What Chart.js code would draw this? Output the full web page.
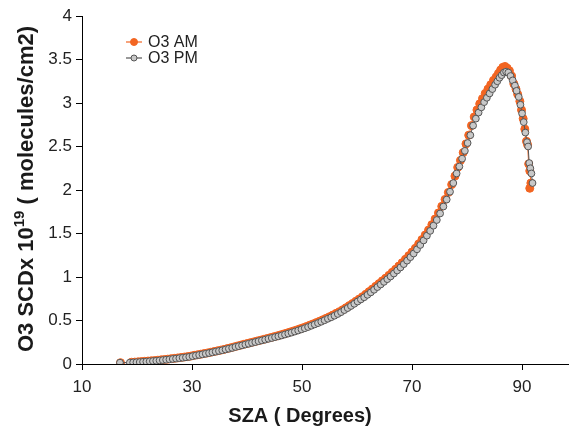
<!DOCTYPE html>
<html>
<head>
<meta charset="utf-8">
<script src="https://cdn.jsdelivr.net/npm/chart.js@4.4.0/dist/chart.umd.min.js"></script>
<style>
  html, body { margin: 0; padding: 0; background: #fff; overflow: hidden; }
  #wrap { width: 573px; height: 426px; position: relative; }
</style>
</head>
<body>
<div id="wrap"><canvas id="myChart"></canvas></div>
<script>
// values (SZA in degrees, SCD in 1e19 molecules/cm2)
const amSza = [17.0, 19.0, 19.6, 20.2, 20.8, 21.4, 22.0, 22.6, 23.2, 23.8, 24.4, 25.0, 25.6, 26.2, 26.8, 27.4, 28.0, 28.6, 29.2, 29.8,
    30.4, 31.0, 31.6, 32.2, 32.8, 33.4, 34.0, 34.6, 35.2, 35.8, 36.4, 37.0, 37.6, 38.2, 38.8, 39.4, 40.0, 40.6, 41.2, 41.8,
    42.4, 43.0, 43.6, 44.2, 44.8, 45.4, 46.0, 46.6, 47.2, 47.8, 48.4, 49.0, 49.6, 50.2, 50.8, 51.4, 52.0, 52.6, 53.2, 53.8,
    54.4, 55.0, 55.6, 56.2, 56.8, 57.4, 58.0, 58.6, 59.2, 59.8, 60.4, 61.0, 61.6, 62.2, 62.8, 63.4, 64.0, 64.6, 65.2, 65.8,
    66.4, 67.0, 67.6, 68.2, 68.8, 69.4, 70.0, 70.6, 71.2, 71.8, 72.4, 73.0, 73.6, 74.2, 74.8, 75.4, 76.0, 76.6, 77.2, 77.8,
    78.3, 78.8, 79.3, 79.8, 80.3, 80.8, 81.3, 81.8, 82.3, 82.8, 83.3, 83.8, 84.3, 84.8, 85.3, 85.7, 86.1, 86.5, 86.9, 87.3,
    87.7, 88.1, 88.5, 88.9, 89.2, 89.6, 89.9, 90.2, 90.5, 90.8, 91.0, 91.2, 91.4, 91.6, 91.4];
const amO3 = [0.015, 0.02, 0.022, 0.025, 0.028, 0.031, 0.034, 0.037, 0.04, 0.044, 0.048, 0.052, 0.056, 0.061, 0.065, 0.07, 0.075, 0.08, 0.085, 0.091,
    0.1, 0.106, 0.113, 0.12, 0.127, 0.135, 0.143, 0.151, 0.159, 0.168, 0.177, 0.186, 0.196, 0.206, 0.216, 0.226, 0.235, 0.245, 0.254, 0.264,
    0.273, 0.283, 0.292, 0.302, 0.312, 0.322, 0.333, 0.344, 0.355, 0.367, 0.379, 0.391, 0.404, 0.417, 0.431, 0.446, 0.461, 0.476, 0.492, 0.509,
    0.526, 0.544, 0.562, 0.582, 0.602, 0.624, 0.647, 0.671, 0.696, 0.722, 0.747, 0.774, 0.802, 0.832, 0.862, 0.893, 0.924, 0.956, 0.987, 1.019,
    1.054, 1.089, 1.126, 1.164, 1.204, 1.245, 1.287, 1.33, 1.38, 1.43, 1.483, 1.54, 1.602, 1.667, 1.737, 1.812, 1.892, 1.972, 2.062, 2.16,
    2.26, 2.34, 2.43, 2.53, 2.63, 2.74, 2.84, 2.92, 2.99, 3.05, 3.11, 3.16, 3.21, 3.26, 3.3, 3.34, 3.38, 3.41, 3.42, 3.4,
    3.37, 3.31, 3.22, 3.16, 3.1, 3.02, 2.92, 2.82, 2.7, 2.56, 2.52, 2.3, 2.22, 2.08, 2.02];

const pmSza = [16.9, 18.7, 19.3, 19.9, 20.5, 21.1, 21.7, 22.3, 22.9, 23.5, 24.1, 24.7, 25.3, 25.9, 26.5, 27.1, 27.7, 28.3, 28.9, 29.5,
    30.1, 30.7, 31.3, 31.9, 32.5, 33.1, 33.7, 34.3, 34.9, 35.5, 36.1, 36.7, 37.3, 37.9, 38.5, 39.1, 39.7, 40.3, 40.9, 41.5,
    42.1, 42.7, 43.3, 43.9, 44.5, 45.1, 45.7, 46.3, 46.9, 47.5, 48.1, 48.7, 49.3, 49.9, 50.5, 51.1, 51.7, 52.3, 52.9, 53.5,
    54.1, 54.7, 55.3, 55.9, 56.5, 57.1, 57.7, 58.3, 58.9, 59.5, 60.1, 60.7, 61.3, 61.9, 62.5, 63.1, 63.7, 64.3, 64.9, 65.5,
    66.1, 66.7, 67.3, 67.9, 68.5, 69.1, 69.7, 70.3, 70.9, 71.5, 72.1, 72.7, 73.3, 73.9, 74.5, 75.1, 75.7, 76.3, 76.9, 77.5,
    78.1, 78.6, 79.1, 79.6, 80.1, 80.6, 81.1, 81.6, 82.1, 82.6, 83.1, 83.6, 84.1, 84.6, 85.1, 85.5, 85.9, 86.3, 86.7, 87.1,
    87.5, 87.9, 88.3, 88.7, 89.0, 89.4, 89.7, 90.0, 90.3, 90.6, 90.9, 91.1, 91.3, 91.5, 91.7, 91.9];
const pmO3 = [0.015, 0.016, 0.018, 0.02, 0.022, 0.025, 0.028, 0.031, 0.034, 0.037, 0.041, 0.045, 0.049, 0.053, 0.058, 0.062, 0.067, 0.072, 0.077, 0.082,
    0.09, 0.097, 0.104, 0.111, 0.118, 0.126, 0.134, 0.142, 0.15, 0.158, 0.167, 0.176, 0.185, 0.196, 0.205, 0.214, 0.224, 0.233, 0.243, 0.252,
    0.262, 0.271, 0.28, 0.29, 0.299, 0.309, 0.318, 0.328, 0.339, 0.35, 0.361, 0.373, 0.385, 0.398, 0.411, 0.425, 0.44, 0.455, 0.47, 0.486,
    0.503, 0.52, 0.537, 0.555, 0.575, 0.596, 0.62, 0.643, 0.667, 0.692, 0.718, 0.742, 0.767, 0.795, 0.823, 0.853, 0.884, 0.914, 0.944, 0.975,
    1.006, 1.04, 1.075, 1.11, 1.148, 1.188, 1.228, 1.27, 1.318, 1.368, 1.42, 1.475, 1.53, 1.59, 1.655, 1.73, 1.81, 1.89, 1.98, 2.08,
    2.19, 2.27, 2.36, 2.45, 2.54, 2.63, 2.74, 2.82, 2.89, 2.95, 3.01, 3.06, 3.11, 3.16, 3.21, 3.25, 3.29, 3.32, 3.35, 3.36,
    3.35, 3.31, 3.26, 3.2, 3.14, 3.07, 2.98, 2.88, 2.78, 2.66, 2.55, 2.5, 2.31, 2.25, 2.19, 2.08];

const xTicks = [10, 30, 50, 70, 90];
const yTicks = [0, 0.5, 1, 1.5, 2, 2.5, 3, 3.5, 4];

const FONT = "'Liberation Sans', Arial, Helvetica, sans-serif";
const orange = 'rgb(242, 101, 34)';
const grayFill = 'rgb(200, 200, 200)';
const grayLine = 'rgb(85, 85, 85)';

function toPoints(xs, ys) {
    return xs.map((x, i) => ({ x: x, y: ys[i] }));
}

// axis titles and the in-plot legend
const decorations = {
    id: 'decorations',
    afterDraw(chart) {
        const ctx = chart.ctx;
        const ds = chart.data.datasets;
        ctx.save();

        // legend
        const rows = [{ d: ds[0], y: 42, r: 3.5 }, { d: ds[1], y: 58, r: 3 }];
        rows.forEach(row => {
            ctx.strokeStyle = row.d.borderColor;
            ctx.lineWidth = 1.2;
            ctx.beginPath();
            ctx.moveTo(126, row.y);
            ctx.lineTo(142, row.y);
            ctx.stroke();
            ctx.beginPath();
            ctx.arc(134, row.y, row.r, 0, Math.PI * 2);
            ctx.fillStyle = row.d.pointBackgroundColor;
            ctx.fill();
            ctx.lineWidth = 1;
            ctx.strokeStyle = row.d.pointBorderColor;
            ctx.stroke();
            ctx.fillStyle = '#222';
            ctx.font = '16px ' + FONT;
            ctx.textAlign = 'left';
            ctx.textBaseline = 'middle';
            ctx.fillText(row.d.label, 148, row.y + 0.5);
        });

        // x title
        ctx.fillStyle = '#1a1a1a';
        ctx.font = 'bold 20px ' + FONT;
        ctx.textAlign = 'center';
        ctx.textBaseline = 'alphabetic';
        ctx.fillText('SZA ( Degrees)', 300, 422);

        // y title with superscript
        const part1 = 'O3 SCDx 10', sup = '19', part2 = ' ( molecules/cm2)';
        const big = 'bold 22px ' + FONT, small = 'bold 15px ' + FONT;
        ctx.font = big;
        const w1 = ctx.measureText(part1).width, w3 = ctx.measureText(part2).width;
        ctx.font = small;
        const w2 = ctx.measureText(sup).width;
        const total = w1 + w2 + w3;
        ctx.translate(33, 189);
        ctx.rotate(-Math.PI / 2);
        ctx.textAlign = 'left';
        let x = -total / 2;
        ctx.font = big;
        ctx.fillText(part1, x, 0);
        x += w1;
        ctx.font = small;
        ctx.fillText(sup, x, -9);
        x += w2;
        ctx.font = big;
        ctx.fillText(part2, x, 0);
        ctx.restore();
    }
};

const axisCommon = {
    grid: { display: true, drawOnChartArea: false, drawTicks: true, tickLength: 6, tickColor: '#000' },
    border: { display: true, color: '#000', width: 1 },
    ticks: { color: '#222', font: { family: FONT, size: 17 }, padding: 4, callback: (v) => String(v) }
};

const config = {
    type: 'scatter',
    data: {
        datasets: [{
            label: 'O3 AM',
            data: toPoints(amSza, amO3),
            showLine: true,
            borderColor: orange,
            borderWidth: 1,
            pointBackgroundColor: orange,
            pointBorderColor: orange,
            pointBorderWidth: 1,
            pointRadius: 4,
            order: 2
        }, {
            label: 'O3 PM',
            data: toPoints(pmSza, pmO3),
            showLine: true,
            borderColor: grayLine,
            borderWidth: 1,
            pointBackgroundColor: grayFill,
            pointBorderColor: grayLine,
            pointBorderWidth: 1,
            pointRadius: 3.4,
            order: 1
        }]
    },
    options: {
        responsive: true,
        maintainAspectRatio: false,
        animation: false,
        layout: { padding: { top: 16, right: 0, left: 0, bottom: 0 } },
        plugins: { legend: { display: false }, tooltip: { enabled: false } },
        scales: {
            x: Object.assign({}, axisCommon, {
                type: 'linear',
                min: 10,
                max: 98.35,
                ticks: Object.assign({}, axisCommon.ticks, { padding: 7 }),
                afterBuildTicks: (scale) => { scale.ticks = xTicks.map(v => ({ value: v })); },
                afterFit: (scale) => { scale.height = 62; }
            }),
            y: Object.assign({}, axisCommon, {
                type: 'linear',
                min: 0,
                max: 4,
                afterBuildTicks: (scale) => { scale.ticks = yTicks.map(v => ({ value: v })); },
                afterFit: (scale) => { scale.width = 82; }
            })
        }
    },
    plugins: [decorations]
};

const myChart = new Chart(document.getElementById('myChart'), config);
</script>
</body>
</html>
